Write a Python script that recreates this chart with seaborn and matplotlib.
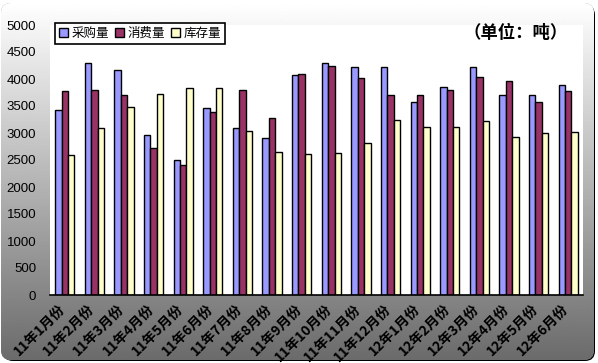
import numpy as np
import pandas as pd
import matplotlib
matplotlib.use("Agg")
import matplotlib.pyplot as plt
import matplotlib.transforms as mtransforms
from matplotlib.patches import FancyBboxPatch
import seaborn as sns

months = ['11年1月份', '11年2月份', '11年3月份', '11年4月份', '11年5月份', '11年6月份',
          '11年7月份', '11年8月份', '11年9月份', '11年10月份', '11年11月份', '11年12月份',
          '12年1月份', '12年2月份', '12年3月份', '12年4月份', '12年5月份', '12年6月份']
purchase = [3430, 4305, 4160, 2970, 2505, 3470, 3100, 2915, 4065, 4290, 4215, 4215,
            3580, 3860, 4230, 3695, 3695, 3880]
consume = [3785, 3805, 3710, 2725, 2400, 3395, 3805, 3285, 4085, 4250, 4010, 3710,
           3695, 3805, 4045, 3970, 3580, 3785]
stock = [2600, 3100, 3490, 3730, 3825, 3840, 3040, 2650, 2615, 2635, 2820, 3245,
         3115, 3115, 3230, 2930, 3005, 3025]
series = ['采购量', '消费量', '库存量']
colors = ['#9999FF', '#993366', '#FFFFCC']

df = pd.DataFrame({'月份': months, '采购量': purchase, '消费量': consume, '库存量': stock})
df = df.melt(id_vars='月份', var_name='类别', value_name='数量')

sns.set_style('white')
plt.rcParams['font.family'] = ['Noto Sans CJK SC', 'DejaVu Sans']
plt.rcParams['text.color'] = 'black'
plt.rcParams['xtick.color'] = 'black'
plt.rcParams['ytick.color'] = 'black'

W, H = 598, 363
fig = plt.figure(figsize=(W / 100, H / 100), dpi=100)
fig.patch.set_facecolor('white')

# background: rounded frame with vertical gradient and a dark shadow
bg = fig.add_axes([0, 0, 1, 1], zorder=-5)
bg.set_xlim(0, W)
bg.set_ylim(H, 0)
bg.axis('off')
shadow = FancyBboxPatch((3, 5), W - 6, H - 7, boxstyle='round,pad=0,rounding_size=10',
                        fc='black', ec='none', zorder=0)
bg.add_patch(shadow)
frame = FancyBboxPatch((1, 3), W - 5, H - 6, boxstyle='round,pad=0,rounding_size=10',
                       fc='#888888', ec='none', zorder=1)
bg.add_patch(frame)
grad = np.linspace(1.0, 0.42, 256).reshape(-1, 1)
im = bg.imshow(grad, cmap='gray', vmin=0, vmax=1, extent=(1, W - 4, H - 3, 3),
               aspect='auto', interpolation='bilinear', zorder=2)
im.set_clip_path(frame)

ax = fig.add_axes([50 / W, 1 - 295 / H, 533 / W, 270 / H])
ax.set_facecolor('white')
sns.barplot(data=df, x='月份', y='数量', hue='类别', hue_order=series, palette=colors,
            width=0.65, edgecolor='black', linewidth=1, saturation=1, ax=ax)

ax.set_ylim(0, 5000)
ax.set_xlim(-0.5, len(months) - 0.5)
ax.set_yticks(range(0, 5001, 500))
ax.set_xlabel('')
ax.set_ylabel('')
for s in ['top', 'right', 'left']:
    ax.spines[s].set_visible(False)
ax.spines['bottom'].set_color('black')
ax.spines['bottom'].set_linewidth(1.2)

ax.tick_params(axis='y', length=0, pad=10, labelsize=9.5)
for t in ax.get_yticklabels():
    t.set_family(['Liberation Sans', 'DejaVu Sans'])
ax.set_xticks(np.arange(-0.5, len(months), 1), minor=True)
ax.tick_params(axis='x', which='minor', direction='in', length=4, width=1, color='black')
ax.tick_params(axis='x', which='major', length=0, pad=3)
ax.set_xticks(range(len(months)))
ax.set_xticklabels(months, rotation=45, ha='right', rotation_mode='anchor',
                   fontsize=10, fontweight='bold')
shift = mtransforms.ScaledTranslation(-5 / 72, -2 / 72, fig.dpi_scale_trans)
for t in ax.get_xticklabels():
    t.set_transform(t.get_transform() + shift)

leg = ax.legend(loc='upper left', bbox_to_anchor=(55 / W, 1 - 23 / H),
                bbox_transform=fig.transFigure, ncol=3, frameon=True, fancybox=False,
                framealpha=1, edgecolor='black', fontsize=9, handlelength=0.7,
                handleheight=0.7, handletextpad=0.3, columnspacing=0.5,
                borderpad=0.3, borderaxespad=0)
leg.get_frame().set_linewidth(1.2)

fig.text(568 / W, 1 - 33 / H, '（单位：吨）', ha='right', va='center',
         fontsize=12.5, fontweight='bold')

fig.savefig('out.png', dpi=100)
